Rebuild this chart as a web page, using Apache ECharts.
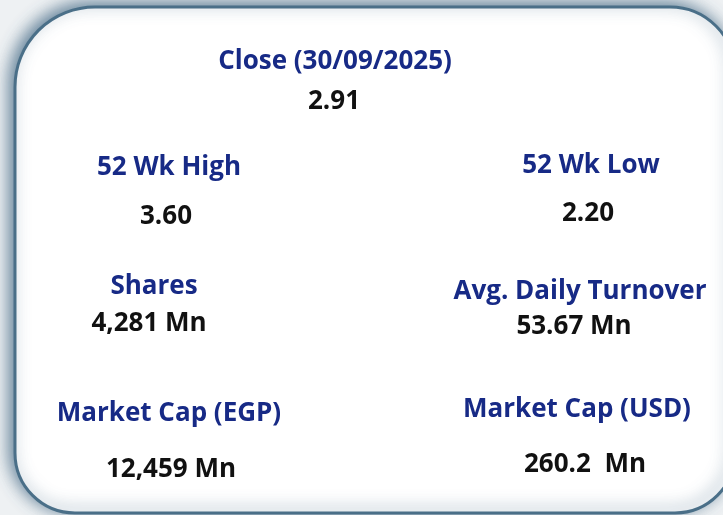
<!DOCTYPE html>
<html>
<head>
<meta charset="utf-8">
<script src="https://cdn.jsdelivr.net/npm/echarts@6/dist/echarts.min.js"></script>
<style>
  html, body { margin: 0; padding: 0; background: #eef1f3; }
  #chart { width: 723px; height: 515px; }
</style>
</head>
<body>
<div id="chart"></div>
<script>
// stock summary card
const closeDate = "30/09/2025";
const labels = [
  "Close (" + closeDate + ")",
  "52 Wk High",
  "52 Wk Low",
  "Shares",
  "Avg. Daily Turnover",
  "Market Cap (EGP)",
  "Market Cap (USD)",
];
const values = ["2.91", "3.60", "2.20", "4,281 Mn", "53.67 Mn", "12,459 Mn", "260.2  Mn"];

// layout: [label x, label y, value x, value y]
const spots = [
  [335, 62, 334, 102],
  [169, 168, 166, 217],
  [591, 166, 588, 214],
  [154, 287, 149, 324],
  [580, 292, 574, 327],
  [169, 414, 171, 470],
  [577, 410, 585, 465],
];

const fontFamily = "'Open Sans', sans-serif";
const navy = "#172a86";

const texts = [];
labels.forEach((lab, i) => {
  const p = spots[i];
  texts.push({
    type: "text",
    x: p[0],
    y: p[1],
    style: {
      text: lab,
      fill: navy,
      font: "bold 26px " + fontFamily,
      align: "center",
      verticalAlign: "middle",
    },
  });
  texts.push({
    type: "text",
    x: p[2],
    y: p[3],
    style: {
      text: values[i],
      fill: "#111111",
      font: "bold 26px " + fontFamily,
      align: "center",
      verticalAlign: "middle",
    },
  });
});

const chart = echarts.init(document.getElementById("chart"));
chart.setOption({
  backgroundColor: "#eef1f3",
  graphic: [
    {
      type: "rect",
      shape: { x: 15, y: 7, width: 720, height: 506, r: [80, 65, 60, 60] },
      style: {
        fill: "#ffffff",
        stroke: "#4a6f88",
        lineWidth: 3,
        shadowBlur: 16,
        shadowColor: "rgba(50, 90, 120, 0.75)",
        shadowOffsetX: -4,
        shadowOffsetY: -3,
      },
    },
  ].concat(texts),
});
</script>
</body>
</html>
